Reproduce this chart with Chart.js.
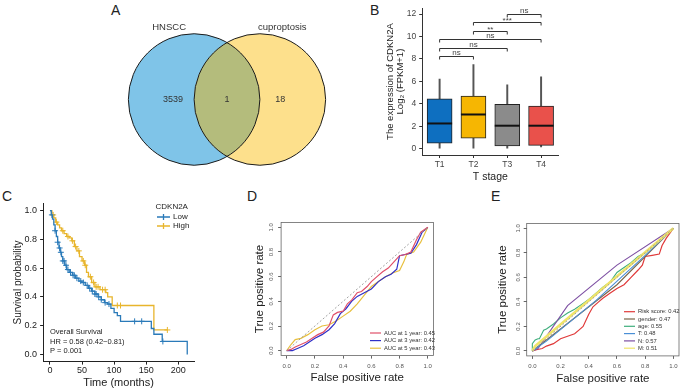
<!DOCTYPE html>
<html>
<head>
<meta charset="utf-8">
<script src="https://cdn.jsdelivr.net/npm/chart.js@4.4.1/dist/chart.umd.min.js"></script>
<style>
  body { margin: 0; background: #fff; width: 682px; height: 392px; position: relative; overflow: hidden;
         font-family: "Liberation Sans", Arial, Helvetica, sans-serif; }
  canvas { position: absolute; }
  .tag { position: absolute; font-size: 14px; line-height: 1; color: #222; }
</style>
</head>
<body>
<div class="tag" style="left:111px;top:3px">A</div>
<div class="tag" style="left:370px;top:3px">B</div>
<div class="tag" style="left:2px;top:189px">C</div>
<div class="tag" style="left:247px;top:189px">D</div>
<div class="tag" style="left:491px;top:189px">E</div>

<canvas id="chartA" width="260" height="199" style="left:97px;top:0"></canvas>
<canvas id="chartB" width="200" height="195" style="left:370px;top:0"></canvas>
<canvas id="chartC" width="230" height="197" style="left:0;top:195px"></canvas>
<canvas id="chartD" width="225" height="197" style="left:230px;top:195px"></canvas>
<canvas id="chartE" width="227" height="197" style="left:455px;top:195px"></canvas>

<script>
// ---- A: Venn ----
const vennSets = ['HNSCC', 'cuproptosis'];
const vennCounts = [3539, 1, 18]; // only HNSCC, both, only cuproptosis

// ---- B: boxplot by T stage ----
const stages = ['T1', 'T2', 'T3', 'T4'];
const boxQ1 = [0.5, 0.95, 0.25, 0.3];
const boxQ3 = [4.45, 4.7, 3.95, 3.8];
const boxMedian = [2.25, 3.05, 2.05, 2.05];
const whiskerLow = [0, 0, 0.05, 0.15];
const whiskerHigh = [6.2, 7.5, 5.7, 6.4];
const exprTicks = [0, 2, 4, 6, 8, 10, 12];
const sigFrom = [0, 0, 0, 1, 1, 2];
const sigTo = [1, 2, 3, 2, 3, 3];
const sigY = [8.25, 9.0, 9.8, 10.5, 11.25, 12.0];
const sigLabel = ['ns', 'ns', 'ns', '**', '***', 'ns'];

// ---- C: Kaplan-Meier ----
const lowTimes = [0, 2, 4, 6, 8, 10, 12, 14, 16, 18, 20, 23, 26, 30, 35, 40, 45, 50, 55, 60, 65, 70, 75, 80, 85, 90, 95, 100, 105, 110, 158, 162, 175, 214];
const lowSurv = [1.0, 0.97, 0.94, 0.9, 0.86, 0.82, 0.78, 0.74, 0.71, 0.68, 0.65, 0.62, 0.59, 0.57, 0.55, 0.53, 0.51, 0.5, 0.48, 0.46, 0.44, 0.42, 0.40, 0.38, 0.36, 0.35, 0.32, 0.29, 0.27, 0.23, 0.18, 0.14, 0.09, 0.0];
const lowCensor = [3, 8, 12, 15, 17, 20, 22, 25, 28, 32, 36, 38, 42, 48, 52, 58, 62, 66, 70, 72, 76, 80, 86, 92, 132, 143, 176];
const highTimes = [0, 3, 6, 9, 12, 15, 18, 22, 26, 30, 34, 38, 42, 46, 50, 54, 57, 60, 65, 70, 78, 87, 90, 97, 162, 183];
const highSurv = [1.0, 0.97, 0.95, 0.92, 0.9, 0.88, 0.86, 0.84, 0.82, 0.81, 0.79, 0.75, 0.72, 0.68, 0.65, 0.62, 0.57, 0.54, 0.5, 0.47, 0.45, 0.43, 0.40, 0.34, 0.17, 0.17];
const highCensor = [5, 10, 20, 28, 35, 40, 45, 52, 55, 63, 68, 72, 75, 82, 86, 105, 110, 183];
const survTicks = [0, 0.2, 0.4, 0.6, 0.8, 1.0];
const timeTicks = [0, 50, 100, 150, 200];

// ---- D: time-dependent ROC ----
const roc1Fpr = [0, 0.03, 0.06, 0.1, 0.14, 0.18, 0.22, 0.26, 0.3, 0.33, 0.36, 0.4, 0.43, 0.46, 0.5, 0.53, 0.57, 0.6, 0.64, 0.68, 0.72, 0.76, 0.8, 0.84, 0.88, 0.92, 0.95, 1];
const roc1Tpr = [0, 0.01, 0.03, 0.05, 0.07, 0.1, 0.13, 0.15, 0.2, 0.29, 0.31, 0.32, 0.38, 0.41, 0.47, 0.48, 0.52, 0.56, 0.6, 0.64, 0.67, 0.72, 0.77, 0.78, 0.8, 0.9, 0.96, 1];
const roc3Fpr = [0, 0.04, 0.08, 0.12, 0.16, 0.2, 0.25, 0.3, 0.34, 0.38, 0.42, 0.46, 0.5, 0.55, 0.6, 0.65, 0.7, 0.74, 0.78, 0.8, 0.84, 0.88, 0.92, 0.96, 1];
const roc3Tpr = [0, 0, 0.02, 0.04, 0.07, 0.1, 0.13, 0.17, 0.22, 0.3, 0.34, 0.4, 0.44, 0.47, 0.5, 0.56, 0.6, 0.62, 0.66, 0.77, 0.78, 0.79, 0.86, 0.96, 1];
const roc5Fpr = [0, 0.03, 0.06, 0.1, 0.15, 0.2, 0.25, 0.3, 0.35, 0.4, 0.45, 0.5, 0.55, 0.6, 0.65, 0.7, 0.75, 0.8, 0.83, 0.85, 0.9, 0.95, 1];
const roc5Tpr = [0, 0.05, 0.09, 0.1, 0.13, 0.17, 0.2, 0.21, 0.24, 0.28, 0.32, 0.38, 0.45, 0.52, 0.56, 0.6, 0.63, 0.65, 0.72, 0.78, 0.8, 0.88, 1];
const rocDLabels = ['AUC at 1 year: 0.45', 'AUC at 3 year: 0.42', 'AUC at 5 year: 0.43'];

// ---- E: ROC of clinical factors ----
const riskFpr = [0, 0.03, 0.07, 0.1, 0.15, 0.2, 0.25, 0.3, 0.33, 0.36, 0.4, 0.43, 0.47, 0.5, 0.55, 0.6, 0.65, 0.7, 0.75, 0.78, 0.8, 0.85, 0.9, 0.92, 0.95, 1];
const riskTpr = [0, 0.01, 0.02, 0.04, 0.06, 0.1, 0.12, 0.14, 0.17, 0.2, 0.3, 0.36, 0.4, 0.43, 0.47, 0.51, 0.54, 0.6, 0.66, 0.7, 0.77, 0.78, 0.79, 0.86, 0.92, 1];
const genderFpr = [0, 0.6, 1];
const genderTpr = [0, 0.54, 1];
const ageFpr = [0, 0, 0.02, 0.04, 0.05, 0.08, 0.1, 0.15, 0.2, 0.25, 0.3, 0.35, 0.4, 0.45, 0.5, 0.55, 0.6, 0.65, 0.7, 0.75, 0.8, 0.85, 0.9, 0.95, 1];
const ageTpr = [0, 0.06, 0.09, 0.1, 0.1, 0.17, 0.18, 0.22, 0.27, 0.31, 0.34, 0.38, 0.42, 0.47, 0.52, 0.56, 0.64, 0.68, 0.72, 0.77, 0.8, 0.85, 0.9, 0.95, 1];
const tFpr = [0, 0.1, 0.45, 0.8, 1];
const tTpr = [0, 0.08, 0.41, 0.78, 1];
const nFpr = [0, 0.04, 0.25, 0.6, 1];
const nTpr = [0, 0.02, 0.37, 0.7, 1];
const mFpr = [0, 0.02, 1];
const mTpr = [0, 0.04, 1];
const rocELabels = ['Risk score: 0.42', 'gender: 0.47', 'age: 0.55', 'T: 0.48', 'N: 0.57', 'M: 0.51'];
const rateTicks = [0, 0.2, 0.4, 0.6, 0.8, 1.0];

const FONT = '"Liberation Sans", Arial, Helvetica, sans-serif';
Chart.defaults.font.family = FONT;
Chart.defaults.animation = false;
Chart.defaults.responsive = false;
Chart.defaults.devicePixelRatio = 1;
Chart.defaults.events = [];
Chart.defaults.plugins.legend.display = false;
Chart.defaults.plugins.tooltip.enabled = false;

const fixW = w => s => { s.width = w; };
const fixH = h => s => { s.height = h; };
const useTicks = vals => s => { s.ticks = vals.map(v => ({ value: v })); };
const pts = (xs, ys) => xs.map((x, i) => ({ x: x, y: ys[i] }));
function survAt(times, surv, t) {
  let s = surv[0];
  times.forEach((tt, i) => { if (tt <= t) s = surv[i]; });
  return s;
}

// ================= A =================
const vennColors = ['#7fc4e8', '#fde08c'];
const vennOverlap = '#b4bc7c';
const vennPlugin = {
  id: 'venn',
  afterDatasetsDraw(chart) {
    const { ctx, scales: { x, y } } = chart;
    const a = chart.getDatasetMeta(0).data[0];
    const b = chart.getDatasetMeta(1).data[0];
    const ra = a.options.radius, rb = b.options.radius;
    ctx.save();
    ctx.beginPath(); ctx.arc(a.x, a.y, ra, 0, Math.PI * 2); ctx.clip();
    ctx.beginPath(); ctx.arc(b.x, b.y, rb, 0, Math.PI * 2);
    ctx.fillStyle = vennOverlap; ctx.fill();
    ctx.restore();
    ctx.save();
    ctx.strokeStyle = '#1c1c1c'; ctx.lineWidth = 1;
    [[a, ra], [b, rb]].forEach(([p, r]) => { ctx.beginPath(); ctx.arc(p.x, p.y, r, 0, Math.PI * 2); ctx.stroke(); });
    ctx.textAlign = 'center'; ctx.textBaseline = 'middle';
    ctx.fillStyle = '#333';
    ctx.font = '9.5px ' + FONT;
    ctx.fillText(vennSets[0], x.getPixelForValue(-0.88), y.getPixelForValue(1.1));
    ctx.fillText(vennSets[1], x.getPixelForValue(0.84), y.getPixelForValue(1.1));
    ctx.font = '9px ' + FONT;
    [-0.82, 0, 0.81].forEach((cx, i) => ctx.fillText(String(vennCounts[i]), x.getPixelForValue(cx), y.getPixelForValue(0)));
    ctx.restore();
  }
};
const circleRadius = c => c.chart.scales.x.getPixelForValue(1) - c.chart.scales.x.getPixelForValue(0);
new Chart(document.getElementById('chartA'), {
  type: 'scatter',
  data: {
    datasets: vennSets.map((name, i) => ({
      label: name,
      data: [{ x: i === 0 ? -0.5 : 0.5, y: 0 }],
      pointRadius: circleRadius,
      pointBackgroundColor: vennColors[i],
      pointBorderWidth: 0,
      order: 2 - i
    }))
  },
  options: {
    layout: { padding: 0 },
    scales: {
      x: { display: false, min: -1.977, max: 1.977 },
      y: { display: false, min: -1.513, max: 1.513 }
    }
  },
  plugins: [vennPlugin]
});

// ================= B =================
const boxColors = ['#0e6fc0', '#f6b602', '#8b8b8b', '#e9514b'];
const boxPlugin = {
  id: 'boxExtras',
  afterDatasetsDraw(chart) {
    const { ctx, scales: { x, y } } = chart;
    const meta = chart.getDatasetMeta(1);
    ctx.save();
    ctx.strokeStyle = '#111'; ctx.lineWidth = 2;
    meta.data.forEach((el, i) => {
      const py = y.getPixelForValue(boxMedian[i]);
      ctx.beginPath(); ctx.moveTo(el.x - el.width / 2, py); ctx.lineTo(el.x + el.width / 2, py); ctx.stroke();
    });
    ctx.strokeStyle = '#333'; ctx.lineWidth = 1;
    ctx.fillStyle = '#444'; ctx.font = '8px ' + FONT;
    ctx.textAlign = 'center'; ctx.textBaseline = 'bottom';
    sigY.forEach((v, i) => {
      const x1 = x.getPixelForValue(sigFrom[i]), x2 = x.getPixelForValue(sigTo[i]);
      const py = Math.round(y.getPixelForValue(v)) + 0.5;
      ctx.beginPath();
      ctx.moveTo(x1, py + 3); ctx.lineTo(x1, py); ctx.lineTo(x2, py); ctx.lineTo(x2, py + 3);
      ctx.stroke();
      const star = sigLabel[i].indexOf('*') >= 0;
      ctx.fillText(sigLabel[i], (x1 + x2) / 2, py + (star ? 2 : 0.5));
    });
    ctx.restore();
  }
};
new Chart(document.getElementById('chartB'), {
  type: 'bar',
  data: {
    labels: stages,
    datasets: [
      { data: stages.map((_, i) => [whiskerLow[i], whiskerHigh[i]]), backgroundColor: '#555', barThickness: 1.3, grouped: false, order: 2 },
      { data: stages.map((_, i) => [boxQ1[i], boxQ3[i]]), backgroundColor: boxColors, borderColor: '#222', borderWidth: 1,
        borderSkipped: false, barThickness: 25, grouped: false, order: 1 }
    ]
  },
  options: {
    layout: { padding: { top: 8, right: 12 } },
    scales: {
      x: {
        afterFit: fixH(40),
        grid: { display: true, drawOnChartArea: false, offset: false, tickLength: 3, color: '#333' },
        border: { color: '#333' },
        ticks: { color: '#444', font: { size: 8.5 }, padding: 2 },
        title: { display: true, text: 'T stage', color: '#222', font: { size: 10.5, lineHeight: 1.2 }, padding: { bottom: 12 } }
      },
      y: {
        min: -0.56, max: 12.53, bounds: 'data',
        afterFit: fixW(52.7),
        afterBuildTicks: useTicks(exprTicks),
        grid: { display: true, drawOnChartArea: false, tickLength: 3.5, color: '#333' },
        border: { color: '#333' },
        ticks: { color: '#444', font: { size: 8.5 }, padding: 3 },
        title: { display: true, text: ['The expression of CDKN2A', 'Log\u2082 (FPKM+1)'], color: '#222',
                 font: { size: 9.5, lineHeight: 1.1 }, padding: { top: 15 } }
      }
    }
  },
  plugins: [boxPlugin]
});

// ================= C =================
const lowColor = '#2a7ab9', highColor = '#e8b52c';
const kmPlugin = {
  id: 'kmExtras',
  afterDraw(chart) {
    const { ctx, scales: { x } } = chart;
    ctx.save();
    ctx.fillStyle = '#222'; ctx.textBaseline = 'middle'; ctx.textAlign = 'left';
    ctx.font = '8px ' + FONT;
    ctx.fillText('CDKN2A', 155.5, 12);
    [['Low', lowColor, 22], ['High', highColor, 31]].forEach(([t, c, yy]) => {
      ctx.strokeStyle = c; ctx.lineWidth = 1.3;
      ctx.beginPath(); ctx.moveTo(157, yy); ctx.lineTo(170, yy); ctx.moveTo(163.5, yy - 3); ctx.lineTo(163.5, yy + 3); ctx.stroke();
      ctx.fillStyle = '#222'; ctx.fillText(t, 173, yy);
    });
    ctx.font = '7.5px ' + FONT;
    const x0 = x.getPixelForValue(0);
    ctx.fillText('Overall Survival', x0, 137);
    ctx.fillText('HR = 0.58 (0.42\u22120.81)', x0, 147);
    ctx.fillText('P = 0.001', x0, 156);
    ctx.restore();
  }
};
new Chart(document.getElementById('chartC'), {
  type: 'line',
  data: {
    datasets: [
      { label: 'Low', data: pts(lowTimes, lowSurv), borderColor: lowColor, borderWidth: 1.3, stepped: true, pointRadius: 0 },
      { label: 'High', data: pts(highTimes, highSurv), borderColor: highColor, borderWidth: 1.3, stepped: true, pointRadius: 0 },
      { label: 'Low censored', data: lowCensor.map(t => ({ x: t, y: survAt(lowTimes, lowSurv, t) })), showLine: false,
        pointStyle: 'cross', pointRadius: 3, borderColor: lowColor, pointBorderWidth: 1 },
      { label: 'High censored', data: highCensor.map(t => ({ x: t, y: survAt(highTimes, highSurv, t) })), showLine: false,
        pointStyle: 'cross', pointRadius: 3, borderColor: highColor, pointBorderWidth: 1 }
    ]
  },
  options: {
    layout: { padding: { top: 5, right: 35.9 } },
    scales: {
      x: {
        type: 'linear', min: -10.7, max: 224.7, bounds: 'data',
        afterFit: fixH(30.4),
        afterBuildTicks: useTicks(timeTicks),
        grid: { display: true, drawOnChartArea: false, tickLength: 3, color: '#222' },
        border: { color: '#222' },
        ticks: { color: '#222', font: { size: 9 }, padding: 1 },
        title: { display: true, text: 'Time (months)', color: '#222', font: { size: 11, lineHeight: 1.2 }, padding: { bottom: 2.4 } }
      },
      y: {
        min: -0.05, max: 1.05, bounds: 'data',
        afterFit: fixW(43.1),
        afterBuildTicks: useTicks(survTicks),
        grid: { display: true, drawOnChartArea: false, tickLength: 3, color: '#222' },
        border: { color: '#222' },
        ticks: { color: '#222', font: { size: 9 }, padding: 3, callback: v => Number(v).toFixed(1) },
        title: { display: true, text: 'Survival probability', color: '#222', font: { size: 10, lineHeight: 1.2 }, padding: { top: 12 } }
      }
    }
  },
  plugins: [kmPlugin]
});

// ================= D & E =================
function rocPlugin(id, labelX, labels, colors, legendX, legendY, legendStep) {
  return {
    id: id,
    afterDraw(chart) {
      const { ctx, chartArea: a, scales: { y } } = chart;
      ctx.save();
      ctx.strokeStyle = '#666'; ctx.lineWidth = 0.8;
      ctx.strokeRect(a.left, a.top, a.right - a.left, a.bottom - a.top);
      ctx.fillStyle = '#555'; ctx.font = '6px ' + FONT;
      ctx.textAlign = 'center'; ctx.textBaseline = 'middle';
      rateTicks.forEach(v => {
        ctx.save();
        ctx.translate(labelX, y.getPixelForValue(v));
        ctx.rotate(-Math.PI / 2);
        ctx.fillText(v.toFixed(1), 0, 0);
        ctx.restore();
      });
      ctx.textAlign = 'left'; ctx.fillStyle = '#333'; ctx.font = '5.8px ' + FONT;
      labels.forEach((t, i) => {
        const yy = legendY + i * legendStep;
        ctx.strokeStyle = colors[i]; ctx.lineWidth = 1.2;
        ctx.beginPath(); ctx.moveTo(legendX, yy); ctx.lineTo(legendX + 11, yy); ctx.stroke();
        ctx.fillText(t, legendX + 14, yy);
      });
      ctx.restore();
    }
  };
}
function rocScales(leftW, bottomH, labelPad, titleBottom, titleTop) {
  return {
    x: {
      type: 'linear', min: -0.04, max: 1.04, bounds: 'data',
      afterFit: fixH(bottomH),
      afterBuildTicks: useTicks(rateTicks),
      grid: { display: true, drawOnChartArea: false, tickLength: 3, color: '#666' },
      border: { display: false },
      ticks: { color: '#555', font: { size: 6 }, padding: labelPad, callback: v => Number(v).toFixed(1) },
      title: { display: true, text: 'False positive rate', color: '#222', font: { size: 11.5, lineHeight: 1.2 }, padding: { bottom: titleBottom } }
    },
    y: {
      min: -0.04, max: 1.04, bounds: 'data',
      afterFit: fixW(leftW),
      afterBuildTicks: useTicks(rateTicks),
      grid: { display: true, drawOnChartArea: false, tickLength: 3, color: '#666' },
      border: { display: false },
      ticks: { display: false },
      title: { display: true, text: 'True positive rate', color: '#222', font: { size: 11.5, lineHeight: 1.2 }, padding: { top: titleTop } }
    }
  };
}
const diagonal = { data: [{ x: 0, y: 0 }, { x: 1, y: 1 }], borderColor: '#999', borderWidth: 0.9, borderDash: [2, 2], pointRadius: 0 };

const rocDColors = ['#e0506a', '#3030c8', '#e8c040'];
new Chart(document.getElementById('chartD'), {
  type: 'line',
  data: {
    datasets: [
      diagonal,
      { label: rocDLabels[0], data: pts(roc1Fpr, roc1Tpr), borderColor: rocDColors[0], borderWidth: 1.2, pointRadius: 0 },
      { label: rocDLabels[1], data: pts(roc3Fpr, roc3Tpr), borderColor: rocDColors[1], borderWidth: 1.2, pointRadius: 0 },
      { label: rocDLabels[2], data: pts(roc5Fpr, roc5Tpr), borderColor: rocDColors[2], borderWidth: 1.2, pointRadius: 0 }
    ]
  },
  options: {
    layout: { padding: { top: 27.4, right: 21.6 } },
    scales: rocScales(51.1, 36.4, 4, 7.4, 23.1)
  },
  plugins: [rocPlugin('rocD', 41.7, rocDLabels, rocDColors, 140, 138, 7.6)]
});

const rocEColors = ['#e03a3a', '#7a6548', '#3fae7c', '#4a8fd6', '#7d4fa2', '#f0e468'];
new Chart(document.getElementById('chartE'), {
  type: 'line',
  data: {
    datasets: [
      diagonal,
      { label: rocELabels[5], data: pts(mFpr, mTpr), borderColor: rocEColors[5], borderWidth: 2.5, pointRadius: 0 },
      { label: rocELabels[3], data: pts(tFpr, tTpr), borderColor: rocEColors[3], borderWidth: 1.1, pointRadius: 0 },
      { label: rocELabels[1], data: pts(genderFpr, genderTpr), borderColor: rocEColors[1], borderWidth: 1.1, pointRadius: 0 },
      { label: rocELabels[4], data: pts(nFpr, nTpr), borderColor: rocEColors[4], borderWidth: 1.1, pointRadius: 0 },
      { label: rocELabels[2], data: pts(ageFpr, ageTpr), borderColor: rocEColors[2], borderWidth: 1.1, pointRadius: 0 },
      { label: rocELabels[0], data: pts(riskFpr, riskTpr), borderColor: rocEColors[0], borderWidth: 1.2, pointRadius: 0 }
    ]
  },
  options: {
    layout: { padding: { top: 28.4, right: 3 } },
    scales: rocScales(71.7, 36.1, 3.5, 6.1, 41.1)
  },
  plugins: [rocPlugin('rocE', 63.3, rocELabels, rocEColors, 169, 116.7, 7.3)]
});
</script>
</body>
</html>
